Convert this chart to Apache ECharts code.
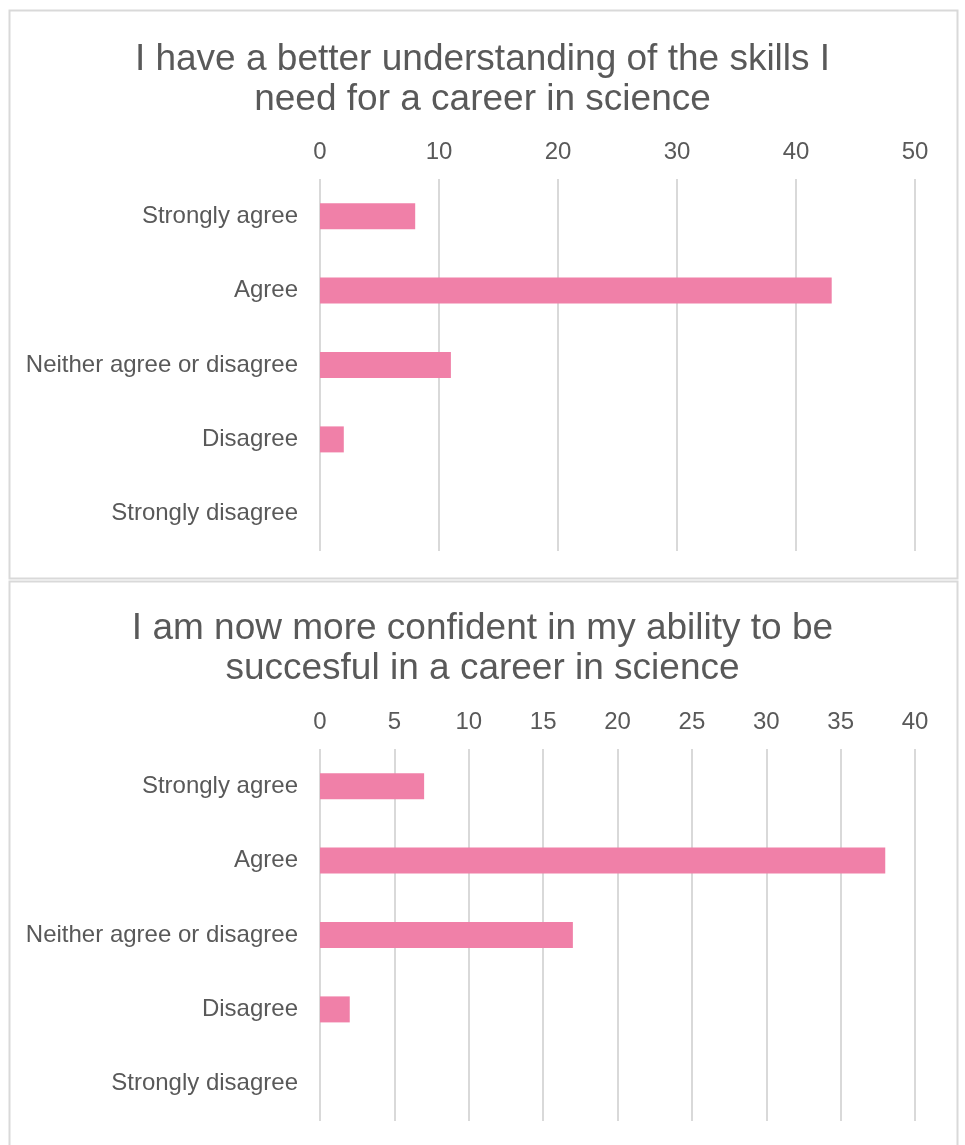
<!DOCTYPE html>
<html><head><meta charset="utf-8">
<script src="https://cdn.jsdelivr.net/npm/echarts@6/dist/echarts.min.js"></script>
<style>html,body{margin:0;padding:0;background:#fff}#c{width:965px;height:1145px}</style>
</head><body><div id="c"></div>
<script>
const categories = ['Strongly agree','Agree','Neither agree or disagree','Disagree','Strongly disagree'];
const title1 = 'I have a better understanding of the skills I\nneed for a career in science';
const title2 = 'I am now more confident in my ability to be\nsuccesful in a career in science';
const values1 = [8, 43, 11, 2, 0];
const values2 = [7, 38, 17, 2, 0];
const axis1 = {min: 0, max: 50, interval: 10};
const axis2 = {min: 0, max: 40, interval: 5};

const txt = '#595959';
const font = 'Liberation Sans, Arial, sans-serif';
function xAx(idx, a){
  return {gridIndex: idx, type:'value', position:'top', min:a.min, max:a.max, interval:a.interval,
    axisLine:{show:false}, axisTick:{show:false},
    axisLabel:{color:txt, fontSize:24, fontFamily:font, margin:15},
    splitLine:{lineStyle:{color:'#d9d9d9', width:2}}};
}
function yAx(idx){
  return {gridIndex: idx, type:'category', inverse:true, data:categories,
    axisLine:{show:false}, axisTick:{show:false},
    axisLabel:{color:txt, fontSize:24, fontFamily:font, margin:22}};
}
const chart = echarts.init(document.getElementById('c'));
chart.setOption({
  animation:false,
  title:[
    {text:title1, left:'center', top:35, textStyle:{color:txt, fontSize:37, fontWeight:'normal', fontFamily:font, lineHeight:40}},
    {text:title2, left:'center', top:604, textStyle:{color:txt, fontSize:37, fontWeight:'normal', fontFamily:font, lineHeight:40}}
  ],
  graphic:[
    {type:'rect', shape:{x:9.5, y:10.5, width:948, height:568}, style:{fill:'none', stroke:'#d9d9d9', lineWidth:2}, silent:true},
    {type:'rect', shape:{x:9.5, y:581.5, width:948, height:600}, style:{fill:'none', stroke:'#d9d9d9', lineWidth:2}, silent:true}
  ],
  grid:[
    {left:320, right:50, top:179, height:372},
    {left:320, right:50, top:749, height:372}
  ],
  xAxis:[xAx(0, axis1), xAx(1, axis2)],
  yAxis:[yAx(0), yAx(1)],
  series:[
    {type:'bar', xAxisIndex:0, yAxisIndex:0, data:values1, barWidth:26, itemStyle:{color:'#f080a8'}},
    {type:'bar', xAxisIndex:1, yAxisIndex:1, data:values2, barWidth:26, itemStyle:{color:'#f080a8'}}
  ]
});
</script></body></html>
